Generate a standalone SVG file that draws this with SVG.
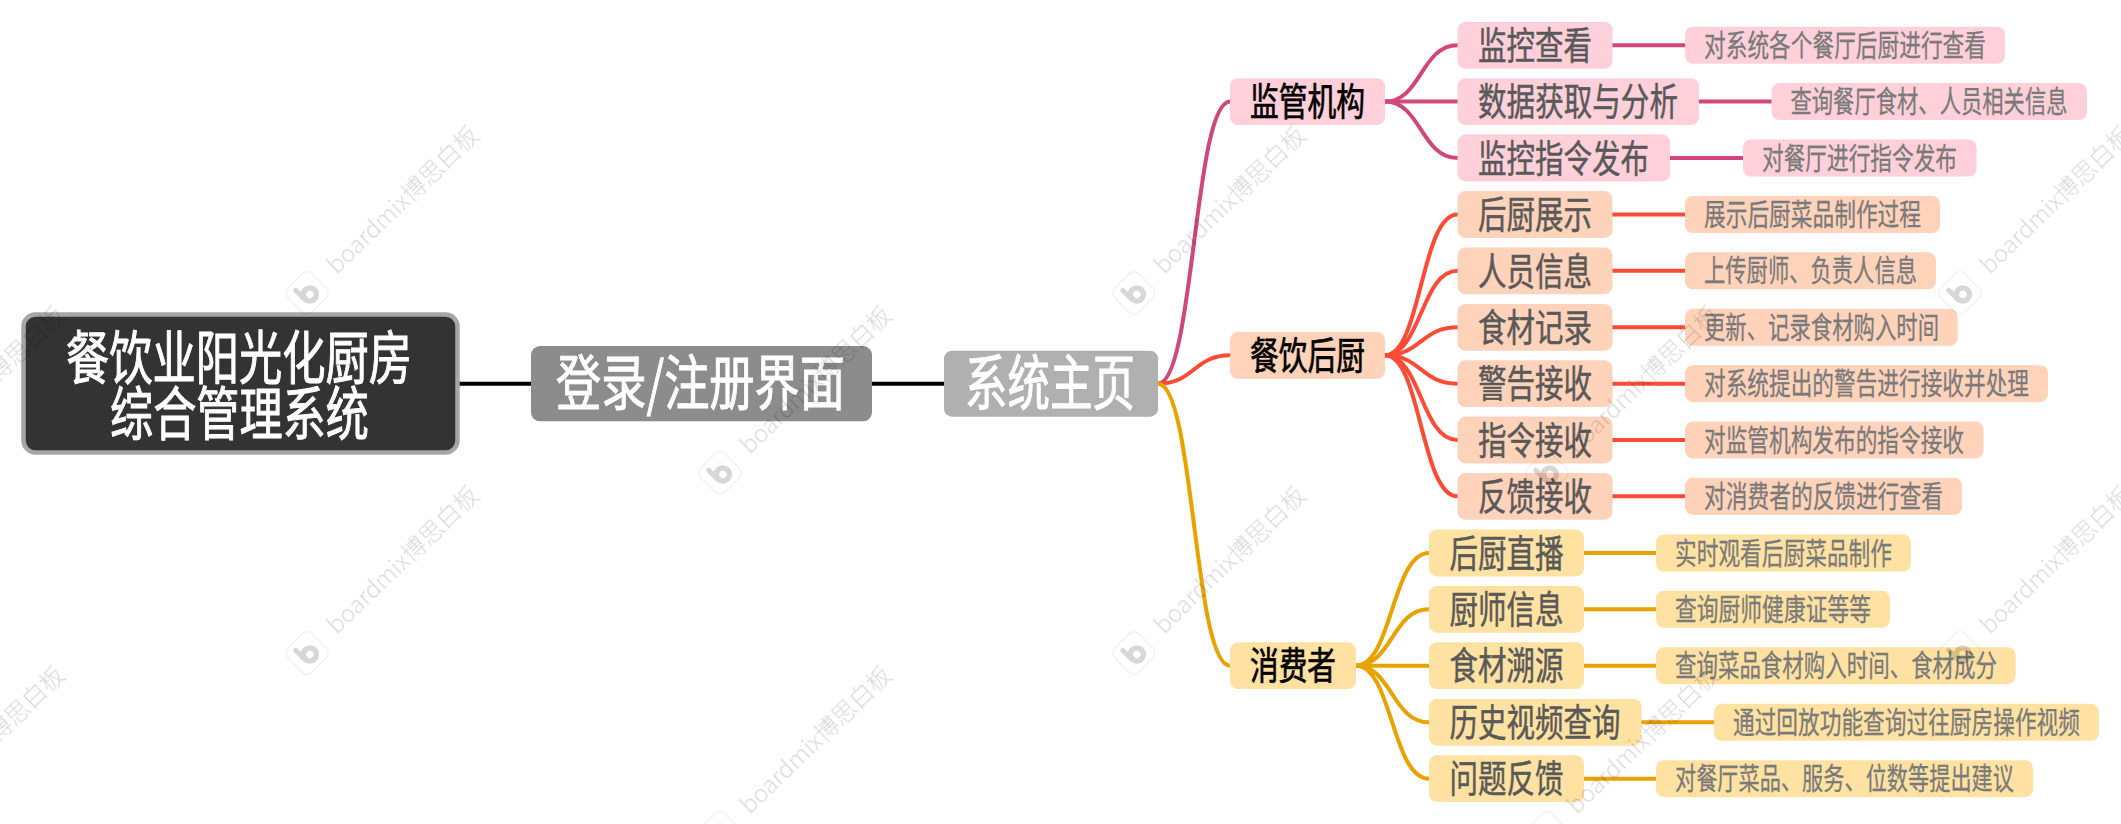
<svg xmlns="http://www.w3.org/2000/svg" xmlns:xlink="http://www.w3.org/1999/xlink" width="2121" height="824" viewBox="0 0 2121 824">
<style>
text{font-family:"Noto Sans CJK SC","Noto Sans",sans-serif;}
.c{fill:none;stroke-width:4;stroke-linecap:round}
.k{stroke:#000}.p{stroke:#d2477b}.r{stroke:#ff4a35}.o{stroke:#e9a200}
.fp{fill:#ffd0d9}.fr{fill:#ffd2ba}.fo{fill:#ffe2a1}
.t0{fill:#fff;font-size:60px;stroke:#fff;stroke-width:1}
.t1{fill:#000;font-size:38px;stroke:#000;stroke-width:.7}
.t2{fill:#595959;font-size:38px;stroke:#595959;stroke-width:.5}
.t3{fill:#7a7a7a;font-size:30px;stroke:#7a7a7a;stroke-width:.3}
.wt{font-size:24px;fill:#000;font-weight:300}
</style>
<defs>
<g id="wm" opacity="0.16">
<rect x="-17" y="-17" width="34" height="34" rx="7" transform="rotate(-45)" fill="none" stroke="#000" stroke-opacity=".45" stroke-width="1"/>
<g transform="rotate(-45)" fill="none" stroke="#000" stroke-opacity="1">
<circle cx="1" cy="3" r="6.5" stroke-width="5.5"/>
<path d="M-6 -10V3" stroke-width="5" stroke-linecap="round"/>
</g>
<text class="wt" x="34" y="8" transform="rotate(-44)" stroke="none">boardmix博思白板</text>
</g>
</defs>
<rect width="2121" height="824" fill="#fff"/>
<g id="connectors">
<path class="c k" d="M459 383.7H531"/>
<path class="c k" d="M872 383.7H944"/>
<path class="c p" d="M1158 383.7C1194 383.7 1194 101.6 1230 101.6"/>
<path class="c r" d="M1158 383.7C1194 383.7 1194 355.3 1230 355.3"/>
<path class="c o" d="M1158 383.7C1194 383.7 1194 665.7 1230 665.7"/>
<path class="c p" d="M1385 101.6C1421 101.6 1421 45.3 1457.5 45.3"/>
<path class="c p" d="M1385 101.6H1457.5"/>
<path class="c p" d="M1385 101.6C1421 101.6 1421 158 1457.5 158"/>
<path class="c r" d="M1385 355.3C1421 355.3 1421 214.5 1457.5 214.5"/>
<path class="c r" d="M1385 355.3C1421 355.3 1421 270.8 1457.5 270.8"/>
<path class="c r" d="M1385 355.3C1421 355.3 1421 327.3 1457.5 327.3"/>
<path class="c r" d="M1385 355.3C1421 355.3 1421 383.7 1457.5 383.7"/>
<path class="c r" d="M1385 355.3C1421 355.3 1421 440 1457.5 440"/>
<path class="c r" d="M1385 355.3C1421 355.3 1421 496.3 1457.5 496.3"/>
<path class="c o" d="M1356 665.7C1392 665.7 1392 553 1429 553"/>
<path class="c o" d="M1356 665.7C1392 665.7 1392 609.3 1429 609.3"/>
<path class="c o" d="M1356 665.7H1429"/>
<path class="c o" d="M1356 665.7C1392 665.7 1392 722.3 1429 722.3"/>
<path class="c o" d="M1356 665.7C1392 665.7 1392 778.7 1429 778.7"/>
<path class="c p" d="M1612 45.3H1685"/>
<path class="c p" d="M1699 101.6H1771.5"/>
<path class="c p" d="M1670 158H1743"/>
<path class="c r" d="M1612 214.5H1685"/>
<path class="c r" d="M1612 270.8H1685"/>
<path class="c r" d="M1612 327.3H1685"/>
<path class="c r" d="M1612 383.7H1685"/>
<path class="c r" d="M1612 440H1685"/>
<path class="c r" d="M1612 496.3H1685"/>
<path class="c o" d="M1584 553H1656"/>
<path class="c o" d="M1584 609.3H1656"/>
<path class="c o" d="M1584 665.7H1656"/>
<path class="c o" d="M1641 722.3H1714"/>
<path class="c o" d="M1584 778.7H1656"/>
</g>
<g id="root"><rect x="23.5" y="314.5" width="434" height="138" rx="12" fill="#333" stroke="#a6a6a6" stroke-width="4.5"/>
<text x="66" y="379" font-size="58" style="font-size:58px" class="t0" textLength="346" lengthAdjust="spacingAndGlyphs">餐饮业阳光化厨房</text>
<text x="110" y="435" style="font-size:58px" class="t0" textLength="259" lengthAdjust="spacingAndGlyphs">综合管理系统</text></g>
<g id="login"><rect x="531" y="346" width="341" height="75.3" rx="9" fill="#8c8c8c"/><text x="556" y="405" class="t0" textLength="289" lengthAdjust="spacingAndGlyphs">登录/注册界面</text></g>
<g id="home"><rect x="944" y="350.7" width="214" height="66" rx="8" fill="#b0b0b0"/><text x="965" y="405" class="t0" textLength="170" lengthAdjust="spacingAndGlyphs">系统主页</text></g>

<g id="n1"><rect class="fp" x="1230" y="78.2" width="155" height="46.8" rx="8"/><text class="t1" x="1250" y="115.3" textLength="115" lengthAdjust="spacingAndGlyphs">监管机构</text></g>
<g id="n2"><rect class="fr" x="1230" y="332" width="155" height="46.8" rx="8"/><text class="t1" x="1250" y="369" textLength="115" lengthAdjust="spacingAndGlyphs">餐饮后厨</text></g>
<g id="n3"><rect class="fo" x="1230" y="642.3" width="126" height="46.8" rx="8"/><text class="t1" x="1250" y="679.4" textLength="86" lengthAdjust="spacingAndGlyphs">消费者</text></g>

<g id="a1"><rect class="fp" x="1457.5" y="22" width="155" height="46.8" rx="8"/><text class="t2" x="1478" y="59" textLength="114" lengthAdjust="spacingAndGlyphs">监控查看</text></g>
<g id="a2"><rect class="fp" x="1457.5" y="78.2" width="241.5" height="46.8" rx="8"/><text class="t2" x="1478" y="115.3" textLength="200" lengthAdjust="spacingAndGlyphs">数据获取与分析</text></g>
<g id="a3"><rect class="fp" x="1457.5" y="134.6" width="212.5" height="46.8" rx="8"/><text class="t2" x="1478" y="171.7" textLength="171" lengthAdjust="spacingAndGlyphs">监控指令发布</text></g>
<g id="b1"><rect class="fr" x="1457.5" y="191.1" width="155" height="46.8" rx="8"/><text class="t2" x="1478" y="228.2" textLength="114" lengthAdjust="spacingAndGlyphs">后厨展示</text></g>
<g id="b2"><rect class="fr" x="1457.5" y="247.4" width="155" height="46.8" rx="8"/><text class="t2" x="1478" y="284.5" textLength="114" lengthAdjust="spacingAndGlyphs">人员信息</text></g>
<g id="b3"><rect class="fr" x="1457.5" y="303.9" width="155" height="46.8" rx="8"/><text class="t2" x="1478" y="341" textLength="114" lengthAdjust="spacingAndGlyphs">食材记录</text></g>
<g id="b4"><rect class="fr" x="1457.5" y="360.3" width="155" height="46.8" rx="8"/><text class="t2" x="1478" y="397.4" textLength="114" lengthAdjust="spacingAndGlyphs">警告接收</text></g>
<g id="b5"><rect class="fr" x="1457.5" y="416.6" width="155" height="46.8" rx="8"/><text class="t2" x="1478" y="453.7" textLength="114" lengthAdjust="spacingAndGlyphs">指令接收</text></g>
<g id="b6"><rect class="fr" x="1457.5" y="472.9" width="155" height="46.8" rx="8"/><text class="t2" x="1478" y="510" textLength="114" lengthAdjust="spacingAndGlyphs">反馈接收</text></g>
<g id="c1"><rect class="fo" x="1429" y="529.6" width="155" height="46.8" rx="8"/><text class="t2" x="1449.5" y="566.7" textLength="114" lengthAdjust="spacingAndGlyphs">后厨直播</text></g>
<g id="c2"><rect class="fo" x="1429" y="585.9" width="155" height="46.8" rx="8"/><text class="t2" x="1449.5" y="623" textLength="114" lengthAdjust="spacingAndGlyphs">厨师信息</text></g>
<g id="c3"><rect class="fo" x="1429" y="642.3" width="155" height="46.8" rx="8"/><text class="t2" x="1449.5" y="679.4" textLength="114" lengthAdjust="spacingAndGlyphs">食材溯源</text></g>
<g id="c4"><rect class="fo" x="1429" y="698.9" width="212.5" height="46.8" rx="8"/><text class="t2" x="1449.5" y="736" textLength="171" lengthAdjust="spacingAndGlyphs">历史视频查询</text></g>
<g id="c5"><rect class="fo" x="1429" y="755.3" width="155" height="46.8" rx="8"/><text class="t2" x="1449.5" y="792.4" textLength="114" lengthAdjust="spacingAndGlyphs">问题反馈</text></g>

<g id="la1"><rect class="fp" x="1685" y="26.8" width="320" height="37" rx="8"/><text class="t3" x="1704" y="55.8" textLength="282" lengthAdjust="spacingAndGlyphs">对系统各个餐厅后厨进行查看</text></g>
<g id="la2"><rect class="fp" x="1771.5" y="83.1" width="315.5" height="37" rx="8"/><text class="t3" x="1790.5" y="112.1" textLength="277" lengthAdjust="spacingAndGlyphs">查询餐厅食材、人员相关信息</text></g>
<g id="la3"><rect class="fp" x="1743" y="139.5" width="233.6" height="37" rx="8"/><text class="t3" x="1762" y="168.5" textLength="195" lengthAdjust="spacingAndGlyphs">对餐厅进行指令发布</text></g>
<g id="lb1"><rect class="fr" x="1685" y="196" width="255" height="37" rx="8"/><text class="t3" x="1704" y="225" textLength="217" lengthAdjust="spacingAndGlyphs">展示后厨菜品制作过程</text></g>
<g id="lb2"><rect class="fr" x="1685" y="252.3" width="251" height="37" rx="8"/><text class="t3" x="1704" y="281.3" textLength="213" lengthAdjust="spacingAndGlyphs">上传厨师、负责人信息</text></g>
<g id="lb3"><rect class="fr" x="1685" y="308.8" width="272.7" height="37" rx="8"/><text class="t3" x="1704" y="337.8" textLength="235" lengthAdjust="spacingAndGlyphs">更新、记录食材购入时间</text></g>
<g id="lb4"><rect class="fr" x="1685" y="365.2" width="363" height="37" rx="8"/><text class="t3" x="1704" y="394.2" textLength="325" lengthAdjust="spacingAndGlyphs">对系统提出的警告进行接收并处理</text></g>
<g id="lb5"><rect class="fr" x="1685" y="421.5" width="298.5" height="37" rx="8"/><text class="t3" x="1704" y="450.5" textLength="260" lengthAdjust="spacingAndGlyphs">对监管机构发布的指令接收</text></g>
<g id="lb6"><rect class="fr" x="1685" y="477.8" width="277" height="37" rx="8"/><text class="t3" x="1704" y="506.8" textLength="239" lengthAdjust="spacingAndGlyphs">对消费者的反馈进行查看</text></g>
<g id="lc1"><rect class="fo" x="1656" y="534.5" width="255" height="37" rx="8"/><text class="t3" x="1675" y="563.5" textLength="217" lengthAdjust="spacingAndGlyphs">实时观看后厨菜品制作</text></g>
<g id="lc2"><rect class="fo" x="1656" y="590.8" width="234" height="37" rx="8"/><text class="t3" x="1675" y="619.8" textLength="196" lengthAdjust="spacingAndGlyphs">查询厨师健康证等等</text></g>
<g id="lc3"><rect class="fo" x="1656" y="647.2" width="359.7" height="37" rx="8"/><text class="t3" x="1675" y="676.2" textLength="322" lengthAdjust="spacingAndGlyphs">查询菜品食材购入时间、食材成分</text></g>
<g id="lc4"><rect class="fo" x="1714" y="703.8" width="385" height="37" rx="8"/><text class="t3" x="1733" y="732.8" textLength="347" lengthAdjust="spacingAndGlyphs">通过回放功能查询过往厨房操作视频</text></g>
<g id="lc5"><rect class="fo" x="1656" y="760.2" width="377" height="37" rx="8"/><text class="t3" x="1675" y="789.2" textLength="339" lengthAdjust="spacingAndGlyphs">对餐厅菜品、服务、位数等提出建议</text></g>

<g id="watermarks">
<use xlink:href="#wm" href="#wm" x="307" y="293"/>
<use xlink:href="#wm" href="#wm" x="1134" y="293"/>
<use xlink:href="#wm" href="#wm" x="1960" y="293"/>
<use xlink:href="#wm" href="#wm" x="-107" y="473"/>
<use xlink:href="#wm" href="#wm" x="720" y="473"/>
<use xlink:href="#wm" href="#wm" x="1547" y="473"/>
<use xlink:href="#wm" href="#wm" x="307" y="653"/>
<use xlink:href="#wm" href="#wm" x="1134" y="653"/>
<use xlink:href="#wm" href="#wm" x="1960" y="653"/>
<use xlink:href="#wm" href="#wm" x="-107" y="833"/>
<use xlink:href="#wm" href="#wm" x="720" y="833"/>
<use xlink:href="#wm" href="#wm" x="1547" y="833"/>
</g>
</svg>
